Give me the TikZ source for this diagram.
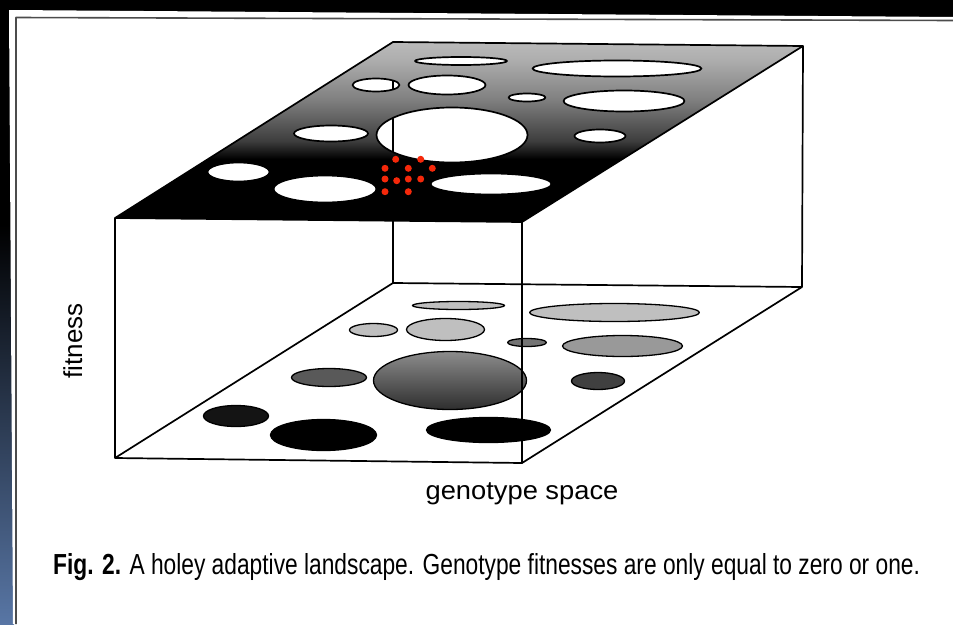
\documentclass[tikz,border=0pt]{standalone}
\usepackage{fontspec}
\setmainfont{Liberation Sans}
\usepackage{graphicx}
\usetikzlibrary{calc}
\definecolor{dotred}{RGB}{245,40,10}
\definecolor{stripblue}{RGB}{88,118,165}
% the middle 25bp..75bp of a named shading is fitted to the shaded path
\pgfdeclareverticalshading{topface}{100bp}{color(0bp)=(black); color(42.5bp)=(black); color(47.5bp)=(black!76); color(59bp)=(black!50); color(70bp)=(black!32); color(75bp)=(black!27); color(100bp)=(black!27)}
\pgfdeclareverticalshading{leftstrip}{100bp}{color(0bp)=(stripblue); color(25bp)=(stripblue); color(57bp)=(black); color(100bp)=(black)}
\begin{document}
\begin{tikzpicture}[x=1pt,y=-1pt,line join=round,
  edge/.style={line width=1.7pt},
  hole/.style={fill=white,draw=black,line width=1.7pt},
  pit/.style={draw=black,line width=1.3pt},
  reddot/.style={fill=dotred}]
\useasboundingbox (0,0) rectangle (953,624);
% frame
\fill[black] (0,0) rectangle (953,624);
\shade[shading=leftstrip] (0,0) rectangle (14,624);
\fill[white] (9,10) -- (953,17) -- (953,624) -- (13,624) -- cycle;
\draw[black!70,line width=1.6pt] (16,624) -- (16,17.5) -- (953,20.5);
% box corners
\coordinate (FTL) at (115,218);
\coordinate (FTR) at (522,222);
\coordinate (BTL) at (393,42);
\coordinate (BTR) at (803,46);
\coordinate (FBL) at (115,458);
\coordinate (FBR) at (522,463);
\coordinate (BBL) at (393,283);
\coordinate (BBR) at (802,287);
% top face
\shade[shading=topface] (FTL) -- (BTL) -- (BTR) -- (FTR) -- cycle;
\foreach \x/\y/\a/\b in {461/61/46/4, 376/85/23.5/6.5, 447/85/38.5/9.5, 527/97.5/18.5/4,
  617/68.5/84.5/8, 624/101/60.5/10.5, 600/136/25.5/6.5, 452/135/75.5/27.5,
  331/133.5/37/8, 238.5/172/31/9.5, 325/189/51.5/13.5, 491/184/60.5/10.5}
  \draw[hole] (\x,\y) ellipse [x radius=\a, y radius=\b];
% back edge seen through the holes
\begin{scope}
  \clip (376,85) ellipse [x radius=23, y radius=6] (452,135) ellipse [x radius=75, y radius=27];
  \draw[edge] (BTL) -- (BBL);
\end{scope}
\draw[edge] ($(FTL)!0.683!(FTR)$) -- (BBL);
% red dots
\foreach \x/\y in {395.7/159.3, 420.7/159.3, 385/168.3, 408.3/168.3, 432.3/168.3,
  385/179, 396.7/180.7, 408.3/179, 420.7/179, 385/191.7, 408.3/191.7}
  \fill[reddot] (\x,\y) circle (3.5);
% bottom face back edges
\draw[edge] (FBL) -- (BBL) -- (BBR) -- (FBR);
% bottom face pits
\foreach \x/\y/\a/\b/\c in {458.5/305.5/46/4/25, 373.5/330/24/6.5/25, 445.5/329.5/39/11/25,
  614.5/312.5/85/9/25, 622.5/346/60/10.5/40, 527/342.5/19.5/4/55, 329/377.5/37.5/9/65,
  598/381/26.5/8.5/75, 236/416/32.5/10.5/92, 323.5/435/53/15.5/100, 488.5/430/62/12.5/100}
  \draw[pit,fill=black!\c] (\x,\y) ellipse [x radius=\a, y radius=\b];
\shade[top color=black!45,bottom color=black!82,draw=black,line width=1.3pt]
  (450,380.5) ellipse [x radius=76.5, y radius=29];
% box edges
\draw[edge] (FTL) -- (FBL) -- (FBR) -- (FTR) -- cycle;
\draw[edge] (FTL) -- (BTL) -- (BTR) -- (FTR);
\draw[edge] (BTR) -- (BBR);
% labels
\node[rotate=90,anchor=base,inner sep=0pt,font=\fontsize{26}{30}\selectfont] (fit) at (82,341) {fitness};
\node[anchor=base,inner sep=0pt,font=\fontsize{26}{30}\selectfont] (geno) at (522,499.5) {\scalebox{1.05}[1]{genotype space}};
\node[anchor=base west,inner sep=0pt,font=\fontsize{29}{34}\selectfont] (cap) at (53,574)
  {\scalebox{0.785}[1]{\textbf{Fig. 2.} A holey adaptive landscape. Genotype fitnesses are only equal to zero or one.}};
\end{tikzpicture}
\end{document}
